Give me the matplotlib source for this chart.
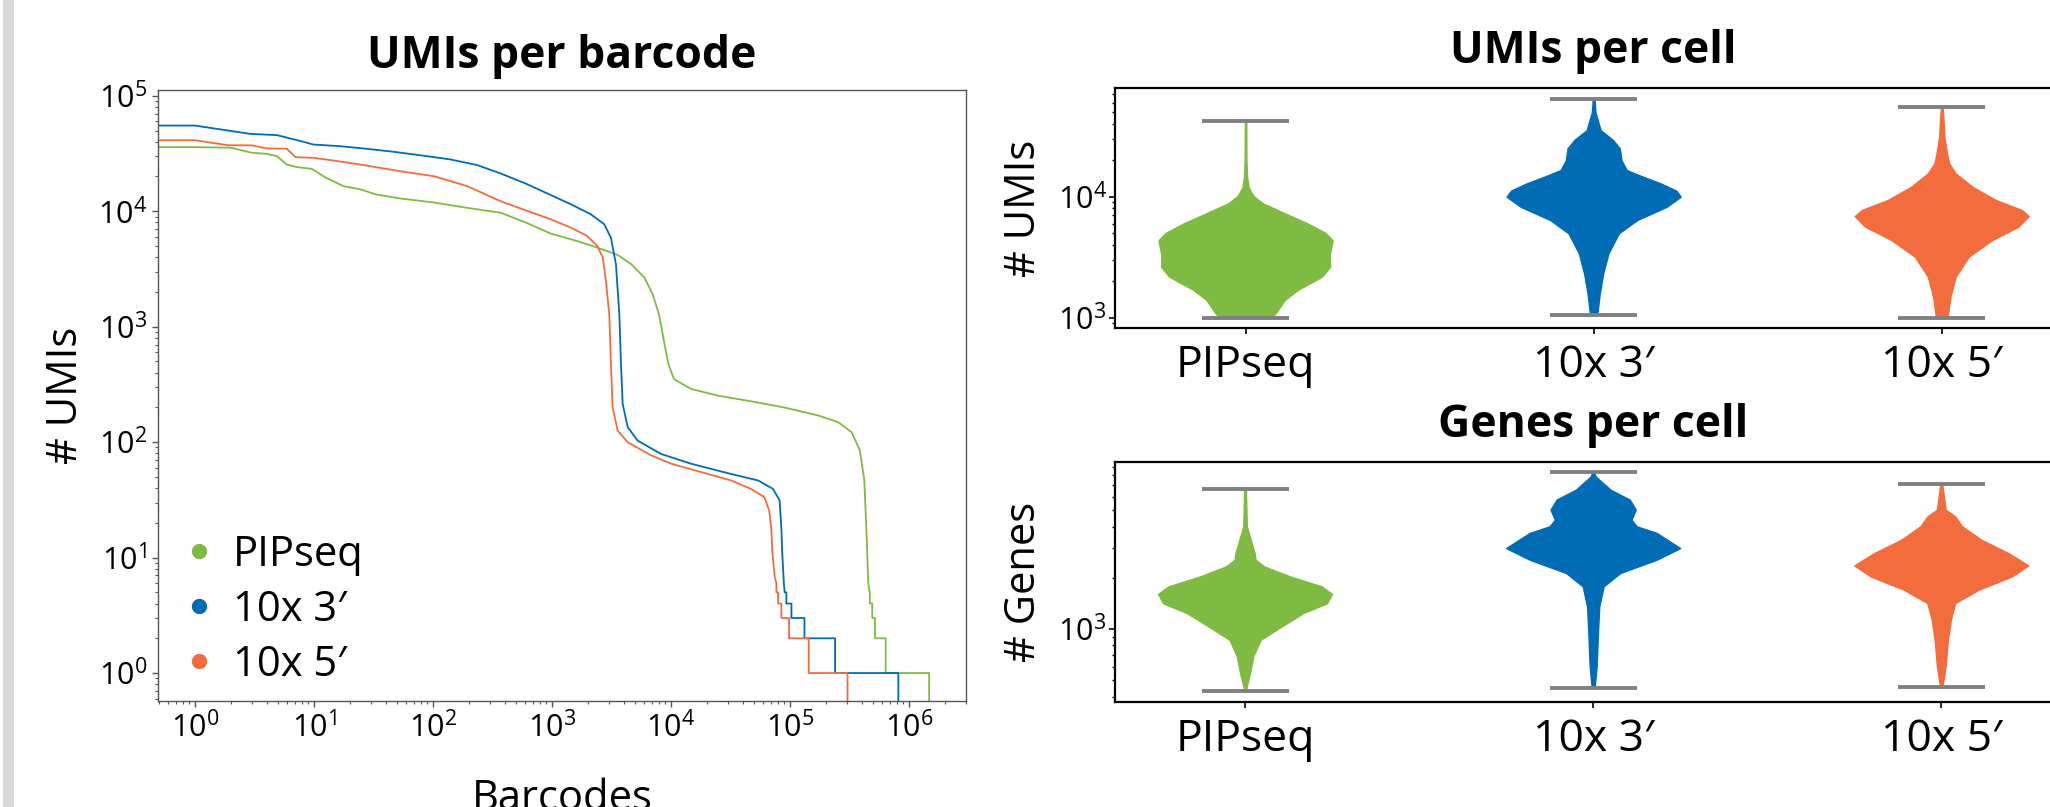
import matplotlib
matplotlib.use("Agg")
import matplotlib.pyplot as plt
from matplotlib.lines import Line2D
from matplotlib.patches import Rectangle

plt.rcParams['font.family'] = ['Open Sans', 'DejaVu Sans']
plt.rcParams['mathtext.fontset'] = 'custom'
plt.rcParams['mathtext.rm'] = 'Open Sans'
plt.rcParams['mathtext.it'] = 'Open Sans:italic'
plt.rcParams['mathtext.bf'] = 'Open Sans:bold'

# ---------------- data ----------------
samples = ["PIPseq", "10x 3\u2032", "10x 5\u2032"]
colors = ["#7fbb42", "#006cb5", "#f36c3d"]

# barcode rank curves (rank, UMIs)
pip_rank = [0, 1, 2, 3, 4, 4.9, 5.9, 7.2, 9.6, 12.6, 14.6, 17.6, 24.5, 33, 53, 102, 194, 372, 600,
            980, 1626, 2410, 3570, 4640, 6000, 7025, 7930, 8840, 9530, 10600, 14800, 24800, 47000,
            89000, 174000, 254000, 330000, 387000, 422000, 441000, 456000, 468000, 470000, 470000,
            492000, 492000, 519000, 519000, 638000, 638000, 1480000, 1480000]
pip_umis = [36000, 35900, 35500, 32100, 31400, 30000, 25400, 24100, 23300, 19500, 18200, 16500, 15500,
            14000, 12900, 11900, 10700, 9700, 8000, 6400, 5520, 4840, 4180, 3480, 2660, 1910, 1290, 708,
            475, 352, 289, 253, 226, 200, 170, 149, 122, 85, 47, 16, 6, 5, 5, 4, 4, 3, 3, 2, 2, 1, 1, 0]

v3_rank = [0, 1, 2.9, 4.9, 8.2, 9.9, 16.6, 28, 47, 89, 140, 236, 372, 600, 980, 1442, 2128, 2754, 3134,
           3453, 3688, 3807, 3934, 4336, 5260, 8268, 14800, 32000, 54000, 72000, 82000, 85000, 86000,
           89000, 90400, 93400, 93400, 103000, 103000, 132500, 132500, 240000, 240000, 815000, 815000]
v3_umis = [64000, 55200, 46800, 45600, 39900, 37800, 36600, 34700, 32700, 30000, 28100, 25100, 21200,
           17400, 13800, 11500, 9400, 7710, 5900, 3475, 1285, 475, 214, 135, 103, 79, 65, 53, 46.6, 39.4,
           31.3, 17.2, 11.6, 6, 5, 5, 4, 4, 3, 3, 2, 2, 1, 1, 0]

v5_rank = [0, 1, 1.9, 3, 4.0, 5.9, 7.0, 9.9, 14.6, 24.5, 53, 102, 194, 372, 600, 980, 1442, 1976, 2410,
           2680, 2844, 3034, 3134, 3238, 3570, 4336, 6860, 10140, 18000, 32000, 47000, 61000, 67000,
           70000, 71000, 74500, 77000, 77000, 79500, 79500, 84800, 84800, 98500, 98500, 144000, 144000,
           305000, 305000]
v5_umis = [41500, 41200, 37300, 37200, 35000, 34800, 29400, 29000, 27500, 25400, 22200, 20100, 16500,
           12200, 10200, 8510, 7210, 6110, 5000, 3960, 2490, 1285, 475, 200, 126, 99.8, 76.6, 64.9, 55,
           46.6, 39.4, 33.4, 25.6, 17.2, 11.6, 6.8, 6, 5, 5, 4, 4, 3, 3, 2, 2, 1, 1, 0]

# violin profiles: value levels and relative density
umi_pip_levels = [1000, 1122, 1400, 1698, 1995, 2188, 2630, 3388, 3981, 4365, 5012, 6026, 7244, 8810,
                  10000, 10715, 12023, 14622, 19953, 42300]
umi_pip_dens = [0.30, 0.36, 0.45, 0.60, 0.78, 0.88, 0.97, 0.97, 0.99, 1.0, 0.92, 0.71, 0.46, 0.20,
                0.10, 0.07, 0.035, 0.018, 0.010, 0.008]
umi_v3_levels = [1060, 1122, 1585, 2328, 3404, 4989, 6412, 8260, 10000, 11220, 12882, 14791, 16596,
                 19953, 25119, 29512, 35481, 50119, 64000]
umi_v3_dens = [0.04, 0.045, 0.07, 0.11, 0.17, 0.29, 0.50, 0.84, 1.0, 0.95, 0.77, 0.55, 0.38, 0.32,
               0.30, 0.22, 0.08, 0.02, 0.01]
umi_v5_levels = [1000, 1047, 1493, 2183, 3192, 4385, 5649, 6918, 7762, 9397, 12106, 15596, 18880,
                 22856, 31333, 43053, 54800]
umi_v5_dens = [0.06, 0.07, 0.10, 0.16, 0.31, 0.58, 0.88, 1.0, 0.92, 0.62, 0.35, 0.16, 0.084, 0.06,
               0.03, 0.02, 0.01]

gene_pip_levels = [430, 450, 551, 693, 865, 1035, 1242, 1416, 1607, 1782, 2037, 2333, 2558, 2799,
                   3350, 4018, 6670]
gene_pip_dens = [0.01, 0.015, 0.057, 0.095, 0.18, 0.42, 0.67, 0.94, 1.0, 0.88, 0.52, 0.22, 0.12,
                 0.11, 0.065, 0.02, 0.01]
gene_v3_levels = [448, 470, 603, 946, 1358, 1782, 2133, 2557, 2992, 3673, 4018, 4396, 5035, 5768,
                  6592, 7870, 8340]
gene_v3_dens = [0.02, 0.02, 0.04, 0.055, 0.07, 0.12, 0.31, 0.73, 1.0, 0.73, 0.50, 0.44, 0.49, 0.42,
                0.20, 0.03, 0.01]
gene_v5_levels = [456, 481, 603, 865, 1135, 1422, 1702, 2037, 2366, 2799, 3350, 4018, 4592, 5035,
                  6026, 7130]
gene_v5_dens = [0.02, 0.02, 0.05, 0.076, 0.11, 0.16, 0.43, 0.81, 1.0, 0.77, 0.46, 0.24, 0.16, 0.05,
                0.03, 0.01]

# ---------------- figure ----------------
fig = plt.figure(figsize=(20.5, 8.07), dpi=100)
fig.patches.append(Rectangle((3 / 2050, 0), 11 / 2050, 1, transform=fig.transFigure,
                             facecolor="#d9d9d9", edgecolor="none", zorder=0))

# ---- left: barcode rank plot ----
ax1 = fig.add_axes([0.07707, 0.13135, 0.39415, 0.75713])
ranks = [pip_rank, v3_rank, v5_rank]
umis = [pip_umis, v3_umis, v5_umis]
for r, u, c in zip(ranks, umis, colors):
    ax1.plot(r, u, color=c, lw=1.3)
ax1.set_xscale("log", nonpositive="clip")
ax1.set_yscale("log", nonpositive="clip")
ax1.set_xlim(10 ** -0.31, 10 ** 6.48)
ax1.set_ylim(10 ** -0.242, 10 ** 5.05)
for s in ax1.spines.values():
    s.set_color("#555555")
    s.set_linewidth(1.0)
ax1.tick_params(which="major", length=4, width=1, labelsize=22, color="#555555", pad=4)
ax1.tick_params(which="minor", length=2.2, width=0.8, color="#555555")
ax1.set_title("UMIs per barcode", fontsize=32, fontweight="bold", pad=16)
ax1.set_ylabel("# UMIs", fontsize=30, labelpad=8)
ax1.set_xlabel("Barcodes", fontsize=30, labelpad=24)

handles = [Line2D([], [], marker="o", ls="none", color=c, markersize=10) for c in colors]
ax1.legend(handles, samples, loc="center left", bbox_to_anchor=(0.0377, 0.149), frameon=False,
           fontsize=30, handlelength=0.5, handletextpad=0.57, labelspacing=0.31,
           borderpad=0, borderaxespad=0)


# ---- right: violins ----
def draw_violins(ax, levels_list, dens_list, title, ylabel, ylim):
    stats = []
    for lv, dn in zip(levels_list, dens_list):
        stats.append({"coords": lv, "vals": dn, "mean": lv[dn.index(max(dn))],
                      "median": lv[dn.index(max(dn))], "min": lv[0], "max": lv[-1]})
    ax.set_yscale("log")
    parts = ax.violin(stats, positions=[0, 1, 2], widths=0.5, showextrema=True)
    for body, c in zip(parts["bodies"], colors):
        body.set_facecolor(c)
        body.set_edgecolor(c)
        body.set_linewidth(1.0)
        body.set_alpha(1)
    for key in ("cmins", "cmaxes"):
        parts[key].set_color("#808080")
        parts[key].set_linewidth(2.8)
    parts["cbars"].set_visible(False)
    ax.set_xlim(-0.375, 2.375)
    ax.set_ylim(*ylim)
    ax.set_xticks([0, 1, 2])
    ax.set_xticklabels(samples, fontsize=32)
    for s in ax.spines.values():
        s.set_color("black")
        s.set_linewidth(1.6)
    ax.tick_params(axis="x", length=4, width=1.2, pad=7)
    ax.tick_params(axis="y", which="major", length=4, width=1.2, labelsize=22, pad=2)
    ax.tick_params(axis="y", which="minor", length=2.2, width=1.0)
    ax.set_title(title, fontsize=32, fontweight="bold", pad=18)
    ax.set_ylabel(ylabel, fontsize=30, labelpad=9)


ax2 = fig.add_axes([0.54390, 0.59318, 0.46698, 0.29740])
draw_violins(ax2, [umi_pip_levels, umi_v3_levels, umi_v5_levels],
             [umi_pip_dens, umi_v3_dens, umi_v5_dens], "UMIs per cell", "# UMIs",
             (10 ** 2.912, 10 ** 4.896))

ax3 = fig.add_axes([0.54366, 0.12974, 0.46698, 0.29814])
draw_violins(ax3, [gene_pip_levels, gene_v3_levels, gene_v5_levels],
             [gene_pip_dens, gene_v3_dens, gene_v5_dens], "Genes per cell", "# Genes",
             (10 ** 2.569, 10 ** 3.984))

fig.savefig("out.png", dpi=100)
